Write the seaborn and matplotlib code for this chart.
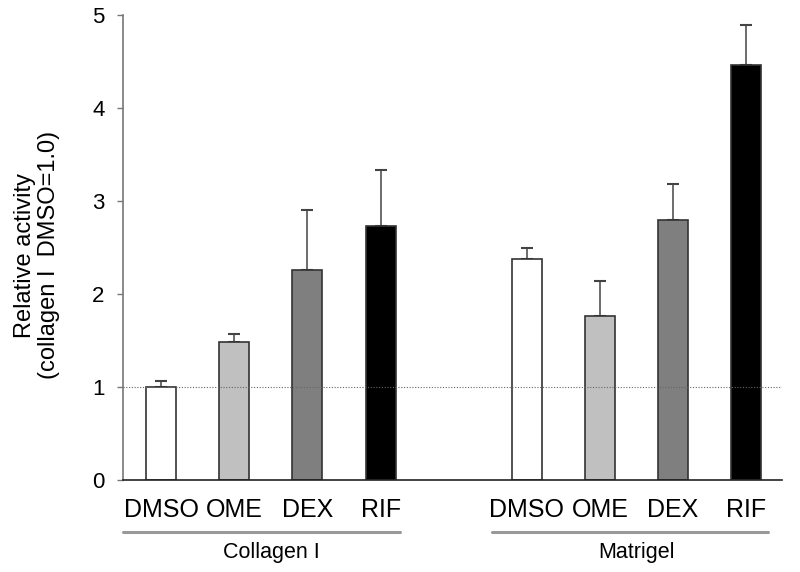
import matplotlib
matplotlib.use("Agg")
import matplotlib.pyplot as plt
import seaborn as sns
import pandas as pd
import numpy as np

treatments = ["DMSO", "OME", "DEX", "RIF"]
groups = ["Collagen I", "Matrigel"]
collagen_vals = [1.00, 1.48, 2.26, 2.73]
collagen_err = [0.06, 0.09, 0.64, 0.60]
matrigel_vals = [2.37, 1.76, 2.79, 4.46]
matrigel_err = [0.12, 0.38, 0.39, 0.43]
y_ticks = [0, 1, 2, 3, 4, 5]
colors = {"DMSO": "#ffffff", "OME": "#c0c0c0", "DEX": "#7f7f7f", "RIF": "#000000"}

sns.set_theme(style="white")
plt.rcParams["font.family"] = ["Liberation Sans", "DejaVu Sans"]
plt.rcParams["text.color"] = "black"
plt.rcParams["xtick.color"] = "black"
plt.rcParams["ytick.color"] = "black"

positions = [0, 1, 2, 3, 5, 6, 7, 8]
df = pd.DataFrame({
    "pos": positions,
    "value": collagen_vals + matrigel_vals,
    "err": collagen_err + matrigel_err,
    "treatment": treatments * 2,
})

fig = plt.figure(figsize=(8, 5.72), dpi=100)
ax = fig.add_axes([0.154, 0.161, 0.8235, 0.813])

sns.barplot(data=df, x="pos", y="value", hue="treatment", palette=colors,
            native_scale=True, dodge=False, errorbar=None, width=0.41,
            edgecolor="#333333", linewidth=1.2, legend=False, ax=ax, zorder=2)

ax.errorbar(df["pos"], df["value"], yerr=[np.zeros(len(df)), df["err"]],
            fmt="none", ecolor="#444444", elinewidth=1.1, capsize=4, capthick=1.5, zorder=1)

ax.axhline(1.0, color="#666666", linestyle=(0, (1, 1.5)), linewidth=0.8, zorder=3)

ax.set_xlim(-0.52, 8.49)
ax.set_ylim(0, 5)
ax.set_yticks(y_ticks)
ax.set_yticklabels([str(t) for t in y_ticks], fontsize=16, color="black")
ax.set_xticks(positions)
ax.set_xticklabels(treatments * 2, fontsize=18, color="black")
ax.tick_params(axis="x", length=0, pad=13)
ax.tick_params(axis="y", length=4.5, width=1, color="#777777", direction="out", pad=9, left=True)
for s in ["top", "right"]:
    ax.spines[s].set_visible(False)
ax.spines["left"].set_color("#777777")
ax.spines["left"].set_linewidth(1.2)
ax.spines["bottom"].set_color("#222222")
ax.spines["bottom"].set_linewidth(1.2)
ax.set_xlabel("")
ax.set_ylabel("")
fig.text(37 / 800, 1 - 255 / 572, "Relative activity\n(collagen I  DMSO=1.0)",
         rotation=90, ha="center", va="center", multialignment="center",
         fontsize=17, linespacing=1.1)

# group annotations
group_spans = [(-0.52, 3.27), (4.53, 8.3)]
group_centers = [1.5, 6.5]
for (x0, x1), c, g in zip(group_spans, group_centers, groups):
    ax.plot([x0, x1], [-0.56, -0.56], color="#999999", linewidth=2.2, clip_on=False)
    ax.text(c, -0.78, g, ha="center", va="center", fontsize=15.5, clip_on=False)

fig.savefig("out.png", dpi=100)
